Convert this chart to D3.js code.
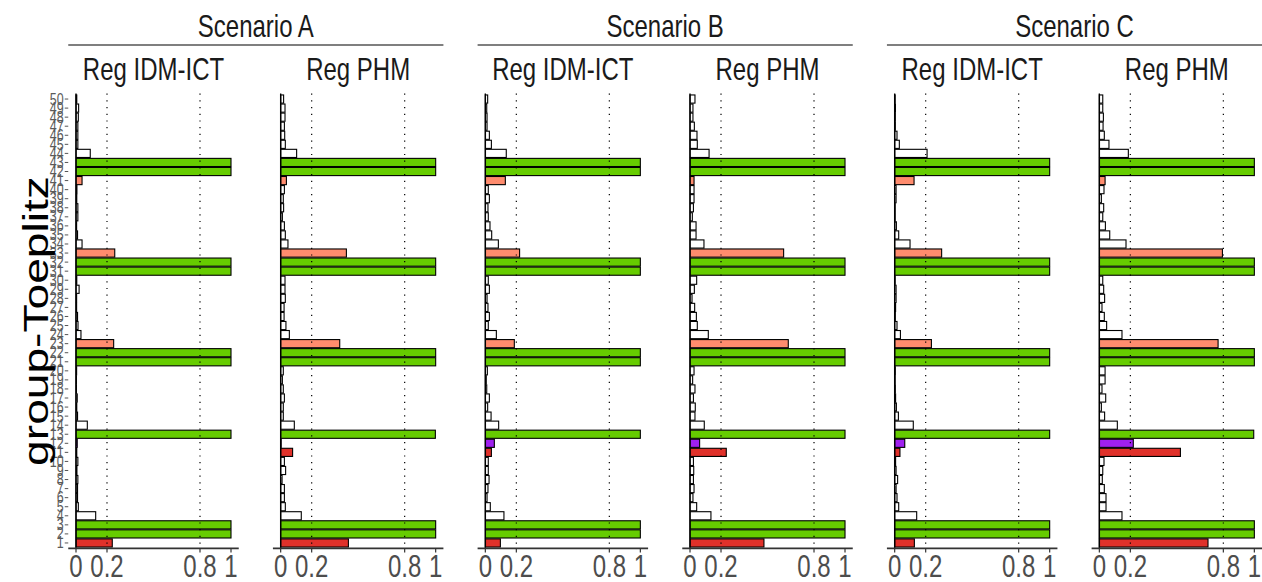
<!DOCTYPE html>
<html>
<head>
<meta charset="utf-8">
<script src="https://cdn.jsdelivr.net/npm/d3@7"></script>
<style>
  body { margin: 0; background: #fff; }
  text { font-family: "Liberation Sans", Arial, sans-serif; }
</style>
</head>
<body>
<svg id="chart"></svg>
<script>
// scenario / method facets
var scenarios = ["Scenario A", "Scenario B", "Scenario C"];
var methods = ["Reg IDM-ICT", "Reg PHM"];
var variables = d3.range(1, 51);
var xTicks = [0, 0.2, 0.8, 1];
var xTickLabels = ["0", "0.2", "0.8", "1"];

// variable groups (fill colour)
var signalVars = [2, 3, 13, 21, 22, 31, 32, 42, 43];
var redVars = [1, 11];
var purpleVars = [12];
var salmonVars = [23, 33, 41];

// selection frequencies, variable 1..50
var aIdm = [0.234, 1, 1, 0.127, 0.015, 0.01, 0.01, 0.012, 0.006, 0.012,
  0.005, 0.008, 1, 0.073, 0.01, 0.005, 0.008, 0.003, 0.003, 0.004,
  1, 1, 0.243, 0.032, 0.013, 0.01, 0.004, 0.004, 0.02, 0.005,
  1, 1, 0.25, 0.039, 0.01, 0.004, 0.012, 0.012, 0.005, 0.006,
  0.039, 1, 1, 0.092, 0.012, 0.012, 0.012, 0.015, 0.017, 0.005];
var aPhm = [0.437, 1, 1, 0.133, 0.03, 0.024, 0.024, 0.009, 0.032, 0.024,
  0.077, 0.003, 0.998, 0.088, 0.017, 0.017, 0.024, 0.017, 0.011, 0.017,
  1, 1, 0.381, 0.056, 0.034, 0.022, 0.022, 0.03, 0.028, 0.028,
  1, 1, 0.424, 0.047, 0.03, 0.024, 0.011, 0.019, 0.017, 0.024,
  0.037, 1, 1, 0.103, 0.03, 0.026, 0.024, 0.028, 0.028, 0.019];
var bIdm = [0.097, 1, 1, 0.12, 0.032, 0.011, 0.017, 0.024, 0.019, 0.019,
  0.039, 0.058, 1, 0.086, 0.037, 0.015, 0.026, 0.009, 0.006, 0.013,
  1, 1, 0.187, 0.071, 0.019, 0.026, 0.017, 0.011, 0.026, 0.019,
  1, 1, 0.221, 0.084, 0.041, 0.03, 0.019, 0.017, 0.026, 0.019,
  0.129, 1, 1, 0.135, 0.039, 0.026, 0.011, 0.011, 0.009, 0.015];
var bPhm = [0.477, 1, 1, 0.135, 0.043, 0.019, 0.026, 0.022, 0.024, 0.022,
  0.234, 0.062, 1, 0.092, 0.032, 0.034, 0.022, 0.032, 0.017, 0.026,
  1, 1, 0.634, 0.118, 0.047, 0.041, 0.03, 0.013, 0.028, 0.043,
  1, 1, 0.604, 0.09, 0.039, 0.039, 0.015, 0.022, 0.026, 0.026,
  0.026, 1, 1, 0.123, 0.047, 0.045, 0.028, 0.019, 0.019, 0.032];
var cIdm = [0.127, 1, 1, 0.142, 0.026, 0.015, 0.009, 0.019, 0.009, 0.006,
  0.034, 0.065, 1, 0.12, 0.024, 0.011, 0.006, 0.004, 0.003, 0.004,
  1, 1, 0.237, 0.037, 0.015, 0.004, 0.006, 0.009, 0.009, 0.003,
  1, 1, 0.303, 0.099, 0.026, 0.011, 0.003, 0.003, 0.009, 0.009,
  0.125, 1, 1, 0.209, 0.03, 0.015, 0.004, 0.004, 0.005, 0.003];
var cPhm = [0.701, 1, 1, 0.146, 0.043, 0.043, 0.032, 0.019, 0.022, 0.03,
  0.523, 0.219, 0.996, 0.116, 0.034, 0.013, 0.041, 0.017, 0.037, 0.037,
  1, 1, 0.766, 0.146, 0.047, 0.032, 0.017, 0.034, 0.028, 0.022,
  1, 1, 0.794, 0.172, 0.067, 0.039, 0.022, 0.028, 0.013, 0.03,
  0.037, 1, 1, 0.187, 0.062, 0.032, 0.024, 0.026, 0.022, 0.022];

var panelValues = [aIdm, aPhm, bIdm, bPhm, cIdm, cPhm];

function fillOf(v) {
  if (signalVars.indexOf(v) >= 0) return "#66CC00";
  if (redVars.indexOf(v) >= 0) return "#E0312A";
  if (purpleVars.indexOf(v) >= 0) return "#A020F0";
  if (salmonVars.indexOf(v) >= 0) return "#FF8C6E";
  return "#FFFFFF";
}

var svgWidth = 1262, svgHeight = 582;
var panelW = 155, panelStep = 204.67, firstX = 76, expandX = 7.75;
var panelTop = 93.6, panelBottom = 548.4;
var stretch = 1.3; // text in the reference is drawn taller than wide

var svg = d3.select("#chart")
  .attr("width", svgWidth)
  .attr("height", svgHeight);

// text placed at (px,py) and stretched vertically
function label(parent, px, py, str, size, fill, anchor) {
  return parent.append("g")
    .attr("transform", "translate(" + px + "," + py + ")")
    .append("text")
    .attr("transform", "scale(1," + stretch + ")")
    .attr("text-anchor", anchor || "middle")
    .attr("fill", fill)
    .style("font-size", size + "px")
    .text(str);
}

var y = d3.scaleBand()
  .domain(variables)
  .range([panelBottom, panelTop])
  .paddingInner(0.1)
  .paddingOuter(0.15);

panelValues.forEach(function(vals, i) {
  var x0 = firstX + i * panelStep;
  var x = d3.scaleLinear().domain([0, 1]).range([x0, x0 + panelW]);
  var g = svg.append("g");

  var data = variables.map(function(v, k) { return { v: v, value: vals[k] }; });

  g.selectAll("rect.bar")
    .data(data)
    .enter().append("rect")
    .attr("class", "bar")
    .attr("x", x(0))
    .attr("y", function(d) { return y(d.v); })
    .attr("width", function(d) { return x(d.value) - x(0); })
    .attr("height", y.bandwidth())
    .attr("fill", function(d) { return fillOf(d.v); })
    .attr("stroke", "#000")
    .attr("stroke-width", 1.1);

  // dotted reference lines
  g.selectAll("line.grid")
    .data([0.2, 0.8])
    .enter().append("line")
    .attr("x1", function(d) { return x(d); })
    .attr("x2", function(d) { return x(d); })
    .attr("y1", panelTop)
    .attr("y2", panelBottom)
    .attr("stroke", "#000")
    .attr("stroke-width", 1.2)
    .attr("stroke-dasharray", "1.2,5.5");

  g.append("line")
    .attr("x1", x(0)).attr("x2", x(0))
    .attr("y1", panelTop).attr("y2", panelBottom)
    .attr("stroke", "#000")
    .attr("stroke-width", 1.4);

  // x axis
  var ax = g.append("g").attr("transform", "translate(0," + panelBottom + ")");
  ax.append("line")
    .attr("x1", x0 - expandX).attr("x2", x0 + panelW + expandX)
    .attr("stroke", "#333").attr("stroke-width", 1.6);
  ax.selectAll("line.tick")
    .data(xTicks)
    .enter().append("line")
    .attr("x1", function(d) { return x(d); })
    .attr("x2", function(d) { return x(d); })
    .attr("y1", 0).attr("y2", 4)
    .attr("stroke", "#333").attr("stroke-width", 1.2);
  xTicks.forEach(function(t, k) {
    label(ax, x(t), 29, xTickLabels[k], 24, "#4D4D4D");
  });

  // method strip
  label(g, x0 + panelW / 2, 80, methods[i % 2], 24, "#1A1A1A");
});

// scenario strips
scenarios.forEach(function(s, j) {
  var xl = firstX + 2 * j * panelStep - expandX;
  var xr = firstX + (2 * j + 1) * panelStep + panelW + expandX;
  label(svg, (xl + xr) / 2, 37, s, 24, "#1A1A1A");
  svg.append("line")
    .attr("x1", xl).attr("x2", xr)
    .attr("y1", 45).attr("y2", 45)
    .attr("stroke", "#000").attr("stroke-width", 1.2);
});

// y axis (first panel only)
var ya = svg.append("g");
var yl = firstX - expandX;
ya.selectAll("line")
  .data(variables)
  .enter().append("line")
  .attr("x1", yl - 3.5).attr("x2", yl)
  .attr("y1", function(d) { return y(d) + y.bandwidth() / 2; })
  .attr("y2", function(d) { return y(d) + y.bandwidth() / 2; })
  .attr("stroke", "#555").attr("stroke-width", 1);
variables.forEach(function(v) {
  label(ya, yl - 4.5, y(v) + y.bandwidth() / 2 + 5.5, v, 12.5, "#5A5A5A", "end");
});

svg.append("text")
  .attr("transform", "translate(48," + ((panelTop + panelBottom) / 2) + ") rotate(-90) scale(" + stretch + ",1)")
  .attr("text-anchor", "middle")
  .attr("fill", "#000")
  .style("font-size", "35.5px")
  .text("group-Toeplitz");
</script>
</body>
</html>
